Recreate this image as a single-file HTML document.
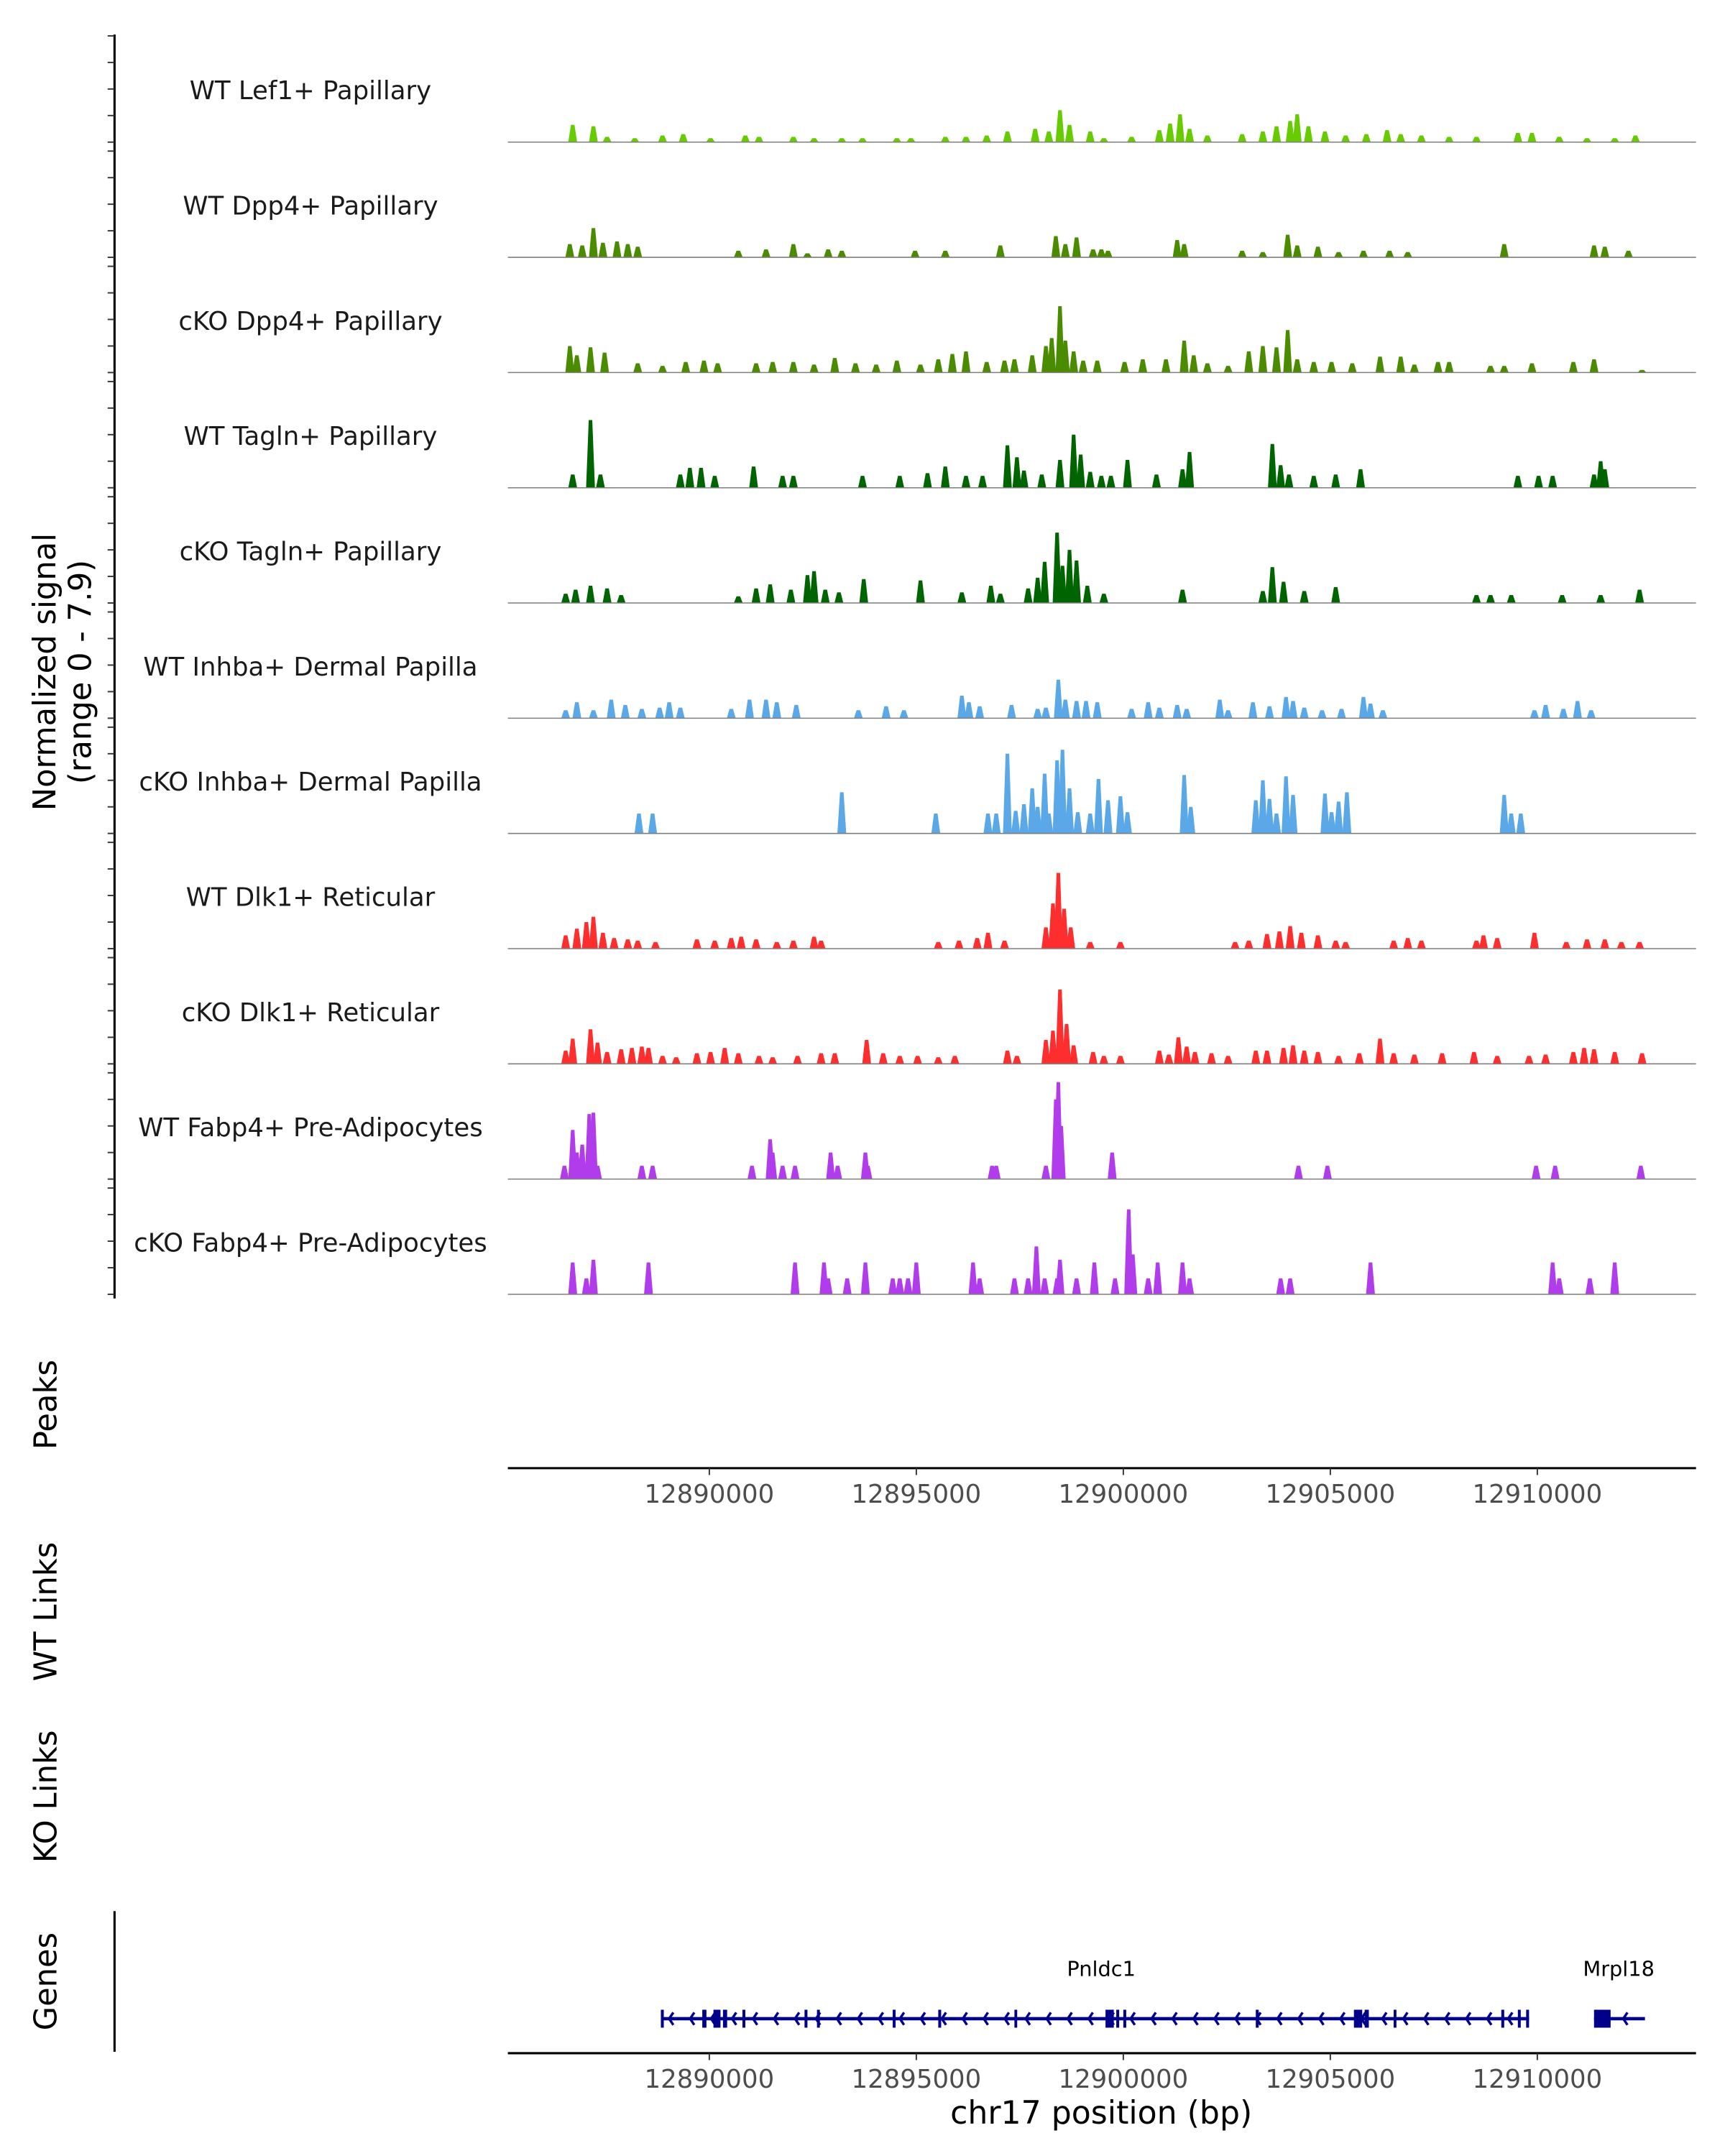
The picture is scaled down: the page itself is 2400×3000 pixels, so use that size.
<!DOCTYPE html>
<html><head><meta charset="utf-8"><style>
html,body{margin:0;padding:0;background:#fff;}
svg{display:block;}
text{font-family:"DejaVu Sans","Liberation Sans",sans-serif;}
</style></head><body>
<svg id="chart" width="2400" height="3000" viewBox="0 0 1250 1562.5" xmlns="http://www.w3.org/2000/svg"></svg>
<script>
// ---- data ----
const trackNames = ["WT Lef1+ Papillary","WT Dpp4+ Papillary","cKO Dpp4+ Papillary","WT Tagln+ Papillary","cKO Tagln+ Papillary","WT Inhba+ Dermal Papilla","cKO Inhba+ Dermal Papilla","WT Dlk1+ Reticular","cKO Dlk1+ Reticular","WT Fabp4+ Pre-Adipocytes","cKO Fabp4+ Pre-Adipocytes"];
const trackColors = ["#66cc00","#4b8b00","#4b8b00","#006400","#006400","#5aa8e8","#5aa8e8","#ff2e2e","#ff2e2e","#b03ceb","#b03ceb"];
const xTicks = [12890000,12895000,12900000,12905000,12910000];
const xTickLabels = ["12890000","12895000","12900000","12905000","12910000"];
// peak positions (kb, chr17) and signal heights per track
const lef1Pos=[12886.7,12887.2,12887.53,12888.2,12888.87,12889.37,12890.03,12890.87,12891.2,12892.03,12892.53,12893.2,12893.7,12894.53,12894.87,12895.7,12896.2,12896.7,12897.2,12897.87,12898.2,12898.47,12898.7,12899.2,12899.53,12900.2,12900.87,12901.13,12901.37,12901.6,12902.03,12902.87,12903.37,12903.7,12904.03,12904.2,12904.47,12904.87,12905.37,12905.87,12906.37,12906.7,12907.2,12907.87,12908.53,12909.53,12909.87,12910.53,12911.2,12911.87,12912.37];
const lef1Val=[1.3,1.2,0.4,0.3,0.5,0.6,0.3,0.5,0.4,0.4,0.3,0.3,0.3,0.3,0.3,0.4,0.4,0.5,0.8,1.0,0.8,2.4,1.3,0.8,0.3,0.4,0.9,1.4,2.1,1.0,0.5,0.6,0.8,1.2,1.6,2.1,1.2,0.8,0.5,0.6,0.9,0.6,0.5,0.4,0.4,0.7,0.7,0.4,0.3,0.3,0.5];
const wtDppPos=[12886.63,12886.93,12887.2,12887.43,12887.77,12888.03,12888.27,12890.7,12891.37,12892.03,12892.37,12892.87,12893.2,12894.97,12895.7,12897.03,12898.37,12898.6,12898.87,12899.27,12899.47,12899.63,12901.3,12901.47,12902.87,12903.37,12903.97,12904.2,12904.7,12905.2,12905.8,12906.43,12906.87,12909.2,12911.37,12911.63,12912.2];
const wtDppVal=[1.0,0.9,2.2,1.1,1.2,1.0,0.8,0.5,0.6,1.0,0.3,0.6,0.5,0.5,0.5,0.9,1.6,1.0,1.5,0.6,0.6,0.5,1.3,1.0,0.5,0.4,1.7,0.9,0.8,0.4,0.5,0.5,0.4,1.0,0.9,0.8,0.5];
const koDppPos=[12886.63,12886.8,12887.13,12887.47,12888.27,12888.87,12889.43,12889.87,12890.2,12891.13,12891.53,12892.03,12892.53,12893.03,12893.53,12894.03,12894.53,12895.1,12895.53,12895.87,12896.2,12896.7,12897.13,12897.37,12897.8,12898.13,12898.27,12898.47,12898.6,12898.8,12899.03,12899.37,12900.03,12900.47,12901.03,12901.47,12901.7,12902.03,12902.53,12903.03,12903.37,12903.7,12903.97,12904.2,12904.6,12905.03,12905.53,12906.2,12906.7,12907.03,12907.6,12907.87,12908.87,12909.2,12909.87,12910.87,12911.37,12912.53];
const koDppVal=[2.0,1.3,1.9,1.5,0.7,0.5,0.8,0.9,0.7,0.7,0.8,0.8,0.6,1.1,0.7,0.6,0.9,0.6,1.0,1.4,1.6,0.8,0.9,1.0,1.3,2.0,2.6,5.0,2.4,1.6,0.9,0.9,0.8,1.0,1.0,2.4,1.3,0.7,0.5,1.6,2.0,1.9,3.2,1.0,0.8,0.8,0.7,1.2,1.2,0.6,0.8,0.8,0.5,0.5,0.7,0.8,1.0,0.2];
const wtTagPos=[12886.7,12887.13,12887.37,12889.3,12889.53,12889.8,12890.13,12891.07,12891.77,12892.03,12893.7,12894.6,12895.27,12895.7,12896.2,12896.6,12897.2,12897.43,12897.6,12898.03,12898.47,12898.8,12898.97,12899.2,12899.47,12899.7,12900.1,12900.8,12901.43,12901.6,12903.6,12903.8,12904.0,12904.6,12905.13,12905.73,12909.53,12910.03,12910.37,12911.37,12911.53,12911.63];
const wtTagVal=[1.0,5.1,1.0,1.0,1.5,1.5,0.9,1.6,0.9,0.9,0.9,0.9,1.1,1.6,0.9,0.9,3.2,2.3,1.3,1.0,2.1,4.0,2.5,1.2,0.9,0.9,2.1,1.0,1.4,2.7,3.3,1.7,1.0,0.9,1.0,1.4,0.9,0.9,0.9,1.0,2.0,1.4];
const koTagPos=[12886.53,12886.77,12887.13,12887.53,12887.87,12890.7,12891.13,12891.47,12891.97,12892.37,12892.53,12892.8,12893.13,12893.73,12895.1,12896.1,12896.8,12897.03,12897.7,12897.93,12898.1,12898.4,12898.53,12898.7,12898.87,12899.13,12899.53,12901.43,12903.37,12903.6,12903.87,12904.37,12905.13,12908.53,12908.87,12909.37,12910.6,12911.53,12912.47];
const koTagVal=[0.7,1.0,1.3,1.1,0.6,0.5,1.1,1.4,1.0,2.1,2.4,1.0,0.8,1.8,1.7,0.8,1.3,0.7,1.1,1.9,3.1,5.3,2.8,4.0,3.2,1.3,0.7,1.0,0.9,2.7,1.6,0.9,1.2,0.6,0.6,0.6,0.6,0.6,1.0];
const wtInhPos=[12886.53,12886.8,12887.2,12887.63,12887.97,12888.37,12888.8,12889.03,12889.3,12890.53,12890.97,12891.37,12891.63,12892.1,12893.6,12894.27,12894.7,12896.1,12896.27,12896.53,12897.3,12897.93,12898.13,12898.43,12898.6,12898.87,12899.1,12899.37,12900.2,12900.6,12900.87,12901.3,12901.53,12902.33,12902.53,12903.13,12903.53,12903.93,12904.1,12904.37,12904.8,12905.27,12905.8,12905.97,12906.27,12909.93,12910.2,12910.63,12910.97,12911.3];
const wtInhVal=[0.6,1.2,0.6,1.4,1.0,0.7,0.8,1.2,0.8,0.7,1.4,1.4,1.2,1.0,0.6,0.9,0.6,1.7,1.2,0.9,1.0,0.7,0.8,2.9,1.4,1.3,1.3,1.2,0.7,1.2,0.8,1.0,0.7,1.4,0.6,1.2,0.9,1.6,1.3,0.8,0.6,0.7,1.6,1.1,0.6,0.6,1.0,0.7,1.3,0.6];
const koInhPos=[12888.3,12888.63,12893.2,12895.47,12896.73,12896.93,12897.2,12897.4,12897.6,12897.8,12897.93,12898.1,12898.2,12898.4,12898.53,12898.7,12898.9,12899.2,12899.4,12899.63,12899.93,12900.1,12901.47,12901.63,12903.2,12903.37,12903.53,12903.7,12903.93,12904.1,12904.87,12905.03,12905.2,12905.4,12909.2,12909.37,12909.6];
const koInhVal=[1.5,1.5,3.1,1.5,1.5,1.5,6.0,1.7,2.2,3.4,2.0,4.5,1.5,5.5,6.3,3.4,1.6,1.5,4.1,2.5,2.8,1.6,4.4,2.0,2.5,4.0,2.6,1.5,4.3,2.9,3.0,1.6,2.4,3.1,2.9,1.5,1.5];
const wtDlkPos=[12886.53,12886.8,12887.03,12887.2,12887.43,12887.7,12888.03,12888.27,12888.7,12889.7,12890.13,12890.53,12890.77,12891.13,12891.63,12892.03,12892.53,12892.7,12895.53,12896.03,12896.47,12896.73,12897.13,12898.13,12898.3,12898.43,12898.57,12898.73,12899.2,12899.93,12902.7,12903.03,12903.47,12903.77,12904.03,12904.3,12904.7,12905.13,12905.37,12906.53,12906.87,12907.2,12908.53,12908.7,12909.03,12909.93,12910.7,12911.2,12911.63,12912.03,12912.47];
const wtDlkVal=[1.0,1.5,2.0,2.4,1.2,0.8,0.7,0.6,0.5,0.7,0.6,0.8,0.9,0.7,0.5,0.6,0.9,0.6,0.5,0.6,0.8,1.2,0.6,1.6,3.4,5.7,3.0,1.6,0.5,0.5,0.5,0.6,1.1,1.3,1.7,1.2,1.0,0.6,0.5,0.6,0.8,0.6,0.6,1.0,0.8,1.2,0.5,0.7,0.7,0.5,0.5];
const koDlkPos=[12886.53,12886.7,12887.13,12887.3,12887.53,12887.87,12888.13,12888.37,12888.53,12888.87,12889.2,12889.7,12890.03,12890.37,12890.7,12891.2,12891.53,12892.13,12892.7,12893.03,12893.8,12894.2,12894.6,12895.03,12895.53,12895.93,12897.2,12897.43,12898.13,12898.3,12898.47,12898.63,12898.8,12899.27,12899.53,12899.93,12900.87,12901.1,12901.33,12901.53,12901.73,12902.13,12902.53,12903.2,12903.47,12903.87,12904.1,12904.37,12904.7,12905.2,12905.7,12906.2,12906.53,12907.03,12907.7,12908.47,12909.03,12909.8,12910.2,12910.87,12911.13,12911.37,12911.87,12912.53];
const koDlkVal=[1.0,1.9,2.6,1.6,0.9,1.1,1.2,1.3,1.2,0.6,0.5,0.8,0.9,1.2,0.8,0.6,0.5,0.6,0.8,0.8,1.8,0.8,0.6,0.6,0.5,0.6,1.0,0.6,1.8,2.5,5.6,3.0,1.4,0.9,0.6,0.6,1.0,0.7,2.0,1.3,0.9,0.8,0.6,1.0,1.0,1.2,1.4,1.0,0.9,0.6,0.8,1.9,0.8,0.7,0.8,0.9,0.6,0.6,0.7,0.9,1.2,1.1,0.9,0.8];
const wtFabPos=[12886.5,12886.7,12886.8,12886.93,12887.1,12887.2,12887.3,12888.37,12888.63,12891.03,12891.47,12891.53,12891.77,12892.07,12892.93,12893.1,12893.77,12893.83,12896.83,12896.93,12898.13,12898.37,12898.43,12898.5,12899.73,12904.23,12904.93,12909.97,12910.43,12912.5];
const wtFabVal=[1.0,3.7,2.0,2.6,4.9,5.0,1.0,1.0,1.0,1.0,3.0,2.0,1.0,1.0,2.0,1.0,2.0,1.0,1.0,1.0,1.0,6.0,7.3,4.0,2.0,1.0,1.0,1.0,1.0,1.0];
const koFabPos=[12886.7,12887.03,12887.2,12888.53,12892.07,12892.77,12892.87,12893.33,12893.77,12894.43,12894.6,12894.8,12895.0,12896.37,12896.53,12897.37,12897.7,12897.9,12898.1,12898.4,12898.47,12898.87,12899.3,12899.8,12900.13,12900.23,12900.6,12900.83,12901.43,12901.6,12903.8,12904.03,12905.97,12910.37,12910.53,12911.27,12911.87];
const koFabVal=[2.4,1.2,2.6,2.4,2.4,2.4,1.2,1.2,2.4,1.2,1.2,1.2,2.4,2.4,1.2,1.2,1.2,3.6,1.2,1.2,2.6,1.2,2.4,1.2,6.4,3.0,1.2,2.4,2.4,1.2,1.2,1.2,2.4,2.4,1.2,1.2,2.4];
const trackPos=[lef1Pos,wtDppPos,koDppPos,wtTagPos,koTagPos,wtInhPos,koInhPos,wtDlkPos,koDlkPos,wtFabPos,koFabPos];
const trackVal=[lef1Val,wtDppVal,koDppVal,wtTagVal,koTagVal,wtInhVal,koInhVal,wtDlkVal,koDlkVal,wtFabVal,koFabVal];
// gene model (kb)
const pnldc1Start=12888.83, pnldc1End=12909.8;
const pnldc1ExonStart=[12888.83,12889.83,12890.1,12890.33,12890.8,12892.3,12892.6,12894.43,12895.53,12897.37,12899.57,12899.83,12900.0,12903.2,12905.57,12905.83,12906.53,12909.13,12909.53,12909.73];
const pnldc1ExonEnd=[12888.9,12889.93,12890.27,12890.43,12890.87,12892.37,12892.67,12894.5,12895.6,12897.43,12899.77,12899.9,12900.07,12903.27,12905.77,12905.93,12906.57,12909.2,12909.6,12909.8];
const mrpl18Start=12911.37, mrpl18End=12912.6;
const mrpl18ExonStart=[12911.37];
const mrpl18ExonEnd=[12911.77];

// ---- scales ----
const NS="http://www.w3.org/2000/svg";
const svg=document.getElementById('chart');
const X0=368, X1=1229;
function xs(kb){return 814+(kb-12900)*30;}
function ys(v,base){return base-v*77/8;}
function mk(tag,attrs,parent){const e=document.createElementNS(NS,tag);for(const k in attrs)e.setAttribute(k,attrs[k]);(parent||svg).appendChild(e);return e;}
function txt(s,attrs,parent){const e=mk('text',attrs,parent);e.textContent=s;return e;}

// left axis
const ax=mk('line',{x1:83,y1:25,x2:83,y2:941,stroke:'#000','stroke-width':1.6});



for(let i=0;i<trackNames.length;i++){
  const base=103+i*83.5;
  const g=mk('g',{});
  
  
  for(let k=0;k<=4;k++){
    mk('line',{x1:78,x2:83,y1:base-k*19.25,y2:base-k*19.25,stroke:'#333','stroke-width':1},g);
  }
  const lab=txt(trackNames[i],{x:225,y:base-31,'text-anchor':'middle','font-size':18.5,fill:'#1a1a1a'},g);
  
  
  const pos=trackPos[i], val=trackVal[i];
  const w=3.2;
  for(let j=0;j<pos.length;j++){
    const x=xs(pos[j]), y=ys(val[j],base);
    const p=mk('polygon',{points:`${x-w},${base} ${x-w*0.4},${y} ${x+w*0.4},${y} ${x+w},${base}`,fill:trackColors[i]},g);
    
    
  }
  mk('line',{x1:X0,x2:X1,y1:base,y2:base,stroke:'#7f7f7f','stroke-width':0.8},g);
}

// y title
const yt=txt('',{transform:'translate(40,487) rotate(-90)','text-anchor':'middle','font-size':22.5,fill:'#000'});


const t1=mk('tspan',{x:0,y:0},yt); t1.textContent='Normalized signal';
const t2=mk('tspan',{x:0,y:26},yt); t2.textContent='(range 0 - 7.9)';

// side labels
[['Peaks',1018,'peaks-label'],['WT Links',1168,'wt-links-label'],['KO Links',1302,'ko-links-label'],['Genes',1436,'genes-label']].forEach(d=>{
  const t=txt(d[0],{transform:`translate(41,${d[1]}) rotate(-90)`,'text-anchor':'middle','font-size':22.5,fill:'#000'});
  
  
});

// x axes
function xAxis(y,name){
  const g=mk('g',{});
  
  
  mk('line',{x1:X0,x2:X1,y1:y,y2:y,stroke:'#000','stroke-width':1.6},g);
  for(let i=0;i<xTicks.length;i++){
    const x=xs(xTicks[i]/1000);
    mk('line',{x1:x,x2:x,y1:y,y2:y+5,stroke:'#333','stroke-width':1},g);
    const t=txt(xTickLabels[i],{x:x,y:y+25,'text-anchor':'middle','font-size':18.5,fill:'#4d4d4d'},g);
    
    
  }
}
xAxis(1064,'peaks-x-axis');
xAxis(1488,'genes-x-axis');
const xt=txt('chr17 position (bp)',{x:798,y:1539,'text-anchor':'middle','font-size':23,fill:'#000'});



// genes axis
const ga=mk('line',{x1:83,x2:83,y1:1385,y2:1487,stroke:'#000','stroke-width':1.6});



// genes
function gene(name,start,end,exS,exE,labelX){
  const g=mk('g',{});
  
  
  const yc=1463;
  mk('line',{x1:xs(start),x2:xs(end),y1:yc,y2:yc,stroke:'#00008b','stroke-width':2.4},g);
  for(let x=xs(start)+6;x<xs(end)-4;x+=15.2){
    mk('polyline',{points:`${x+3},${yc-4.5} ${x},${yc} ${x+3},${yc+4.5}`,fill:'none',stroke:'#00008b','stroke-width':1.8},g);
  }
  exS.forEach((s,i)=>{
    const x=xs(s), w=Math.max(2,xs(exE[i])-x);
    mk('rect',{x:x,y:yc-6.5,width:w,height:13,fill:'#00008b'},g);
  });
  const t=txt(name,{x:labelX,y:1432,'text-anchor':'middle','font-size':15,fill:'#000'},g);
  
  
}
gene('Pnldc1',pnldc1Start,pnldc1End,pnldc1ExonStart,pnldc1ExonEnd,798);
gene('Mrpl18',mrpl18Start,mrpl18End,mrpl18ExonStart,mrpl18ExonEnd,1173);
</script>
</body></html>
